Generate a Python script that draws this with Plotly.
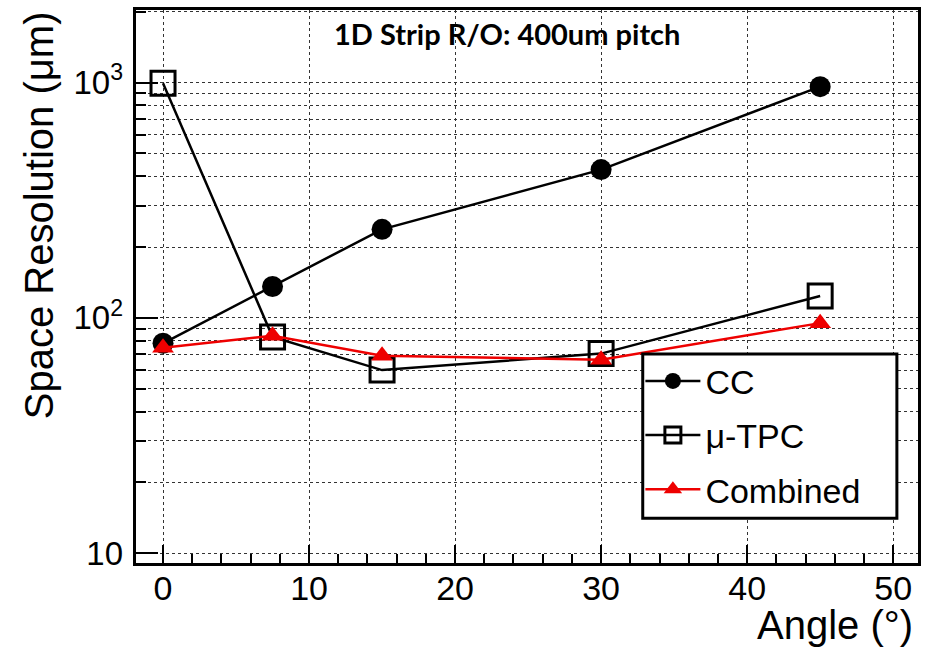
import plotly.graph_objects as go

angles = [0, 7.5, 15, 30, 45]
cc = [78, 136, 238, 427, 962]
utpc = [995, 83, 60, 70.5, 124]
combined = [74.6, 84, 69, 66.4, 95]

x_major = [0, 10, 20, 30, 40, 50]
y_all = [10, 20, 30, 40, 50, 60, 70, 80, 90, 100, 200, 300, 400, 500, 600, 700, 800, 900, 1000, 2000]
y_major = [10, 100, 1000]
y_major_text = ["10", "10<sup>2</sup>", "10<sup>3</sup>"]

FONT = "Liberation Sans"
yr = [0.958, 3.309]

fig = go.Figure()
fig.add_trace(go.Scatter(x=angles, y=cc, mode="lines+markers", name="CC",
                         line=dict(color="black", width=2.5),
                         marker=dict(symbol="circle", size=21, color="black"),
                         legendgroup="a"))
fig.add_trace(go.Scatter(x=angles, y=utpc, mode="lines+markers", name="μ-TPC",
                         line=dict(color="black", width=2.5),
                         marker=dict(symbol="square-open", size=24, color="black", line=dict(width=3)),
                         legendgroup="b"))
fig.add_trace(go.Scatter(x=angles, y=combined, mode="lines+markers", name="Combined",
                         line=dict(color="#ee0000", width=2.5),
                         marker=dict(symbol="triangle-up", size=19, color="#ee0000"),
                         legendgroup="c"))

fig.update_layout(
    width=928, height=649,
    margin=dict(l=136, r=10, t=7, b=86),
    paper_bgcolor="white", plot_bgcolor="white",
    font=dict(family=FONT, color="black", size=31),
    showlegend=True,
    legend=dict(x=0.645, y=0.381, xanchor="left", yanchor="top",
                bgcolor="rgba(0,0,0,0)", borderwidth=0,
                font=dict(size=34, family=FONT), tracegroupgap=7,
                itemwidth=55),
    xaxis=dict(range=[-1.85, 51.7], tickvals=x_major, ticks="inside", ticklen=18,
               tickwidth=2, tickcolor="black",
               minor=dict(dtick=2, tick0=0, ticks="inside", ticklen=9, tickwidth=2,
                          tickcolor="black", showgrid=False),
               showgrid=True, gridcolor="#333", griddash="dot", gridwidth=1,
               showline=True, linecolor="black", linewidth=3, mirror=True,
               zeroline=False, tickfont=dict(size=34), ticklabelstandoff=-7),
    yaxis=dict(type="log", range=yr, tickvals=y_all, ticktext=[""] * len(y_all),
               ticks="inside", ticklen=10, tickwidth=2, tickcolor="black",
               showgrid=True, gridcolor="#333", griddash="dot", gridwidth=1,
               showline=True, linecolor="black", linewidth=3, mirror=True,
               zeroline=False),
    yaxis2=dict(type="log", range=yr, overlaying="y", side="left", anchor="x",
                tickvals=y_major, ticktext=y_major_text,
                ticks="inside", ticklen=22, tickwidth=2, tickcolor="black",
                showgrid=False, showline=False, zeroline=False,
                tickfont=dict(size=33), ticklabelstandoff=12),
)

fig.add_trace(go.Scatter(x=[None], y=[None], yaxis="y2", showlegend=False, hoverinfo="skip"))

# legend frame
fig.add_shape(type="rect", xref="paper", yref="paper",
              x0=0.648, x1=0.973, y0=0.081, y1=0.378,
              line=dict(color="black", width=3), fillcolor="white", layer="above")

fig.add_annotation(text="Space Resolution (μm)", xref="paper", yref="paper",
                   x=-0.124, y=1.0015, xanchor="center", yanchor="top", textangle=-90,
                   showarrow=False, font=dict(size=40, family=FONT))
fig.add_annotation(text="Angle (°)", xref="paper", yref="paper",
                   x=0.996, y=-0.113, xanchor="right", yanchor="middle",
                   showarrow=False, font=dict(size=40, family=FONT))
fig.add_annotation(text="<b>1D Strip R/O: 400um pitch</b>", xref="paper", yref="paper",
                   x=0.475, y=0.957, xanchor="center", yanchor="middle",
                   showarrow=False, font=dict(size=29, family="Lato"))

fig.write_html("out.html")
